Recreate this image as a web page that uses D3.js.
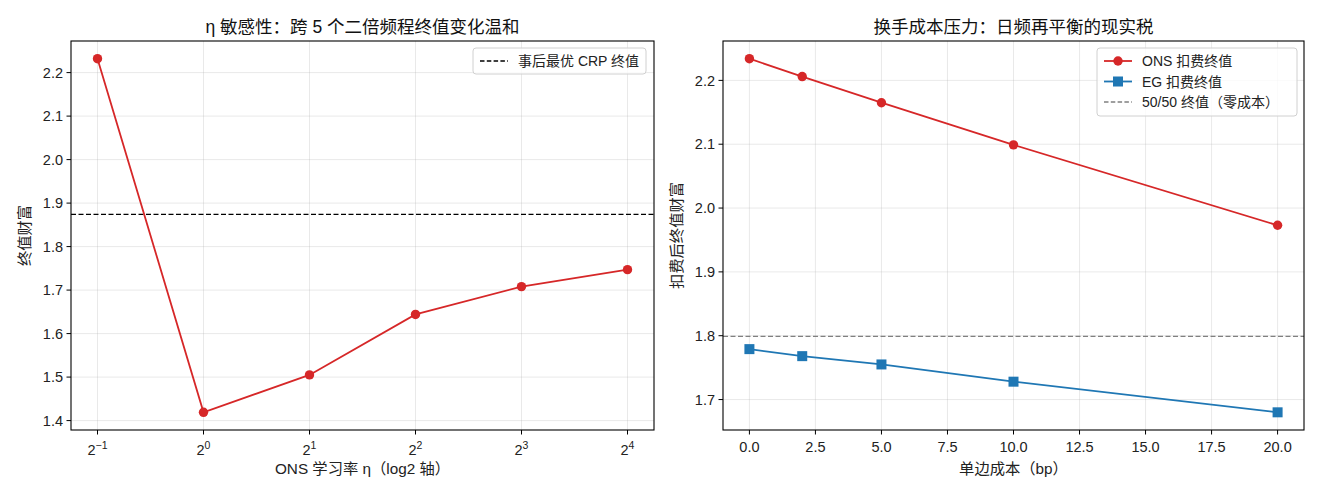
<!DOCTYPE html>
<html>
<head>
<meta charset="utf-8">
<script src="https://cdn.jsdelivr.net/npm/d3@7"></script>
<style>
  body { margin: 0; background: #fff; }
  svg { font-family: "Liberation Sans", "Noto Sans CJK SC", sans-serif; }
</style>
</head>
<body>
<div id="chart"></div>
<script>
// Datos del panel izquierdo: sensibilidad a eta
const etaExp = [-1, 0, 1, 2, 3, 4]
const etaWealth = [2.232, 1.419, 1.505, 1.644, 1.708, 1.747]
const bestCRP = 1.874

// Datos del panel derecho: costo de transacción
const costBp = [0, 2, 5, 10, 20]
const onsNet = [2.234, 2.206, 2.165, 2.099, 1.973]
const egNet = [1.779, 1.768, 1.755, 1.728, 1.680]
const fiftyBase = 1.799

const leftYTicks = [1.4, 1.5, 1.6, 1.7, 1.8, 1.9, 2.0, 2.1, 2.2]
const rightXTicks = [0, 2.5, 5, 7.5, 10, 12.5, 15, 17.5, 20]
const rightYTicks = [1.7, 1.8, 1.9, 2.0, 2.1, 2.2]

const RED = "#d62728"
const BLUE = "#1f77b4"
const TICK_FS = 14.5
const LEG_FS = 14
const LAB_FS = 15.3

const SVG = d3.select("#chart")
    .append("svg")
    .attr("width", 1320)
    .attr("height", 495);

// Margen de matplotlib: 5% del rango
function padded(lo, hi) {
    const m = (hi - lo) * 0.05
    return [lo - m, hi + m]
}

function drawGrid(g, x, y, xTicks, yTicks, box) {
    g.selectAll(".gx").data(xTicks).join("line")
        .attr("x1", d => x(d)).attr("x2", d => x(d))
        .attr("y1", box.top).attr("y2", box.bottom)
        .attr("stroke", "#b0b0b0").attr("stroke-opacity", 0.35).attr("stroke-width", 0.8)
    g.selectAll(".gy").data(yTicks).join("line")
        .attr("y1", d => y(d)).attr("y2", d => y(d))
        .attr("x1", box.left).attr("x2", box.right)
        .attr("stroke", "#b0b0b0").attr("stroke-opacity", 0.35).attr("stroke-width", 0.8)
}

function drawFrame(g, box) {
    g.append("rect")
        .attr("x", box.left).attr("y", box.top)
        .attr("width", box.right - box.left).attr("height", box.bottom - box.top)
        .attr("fill", "none").attr("stroke", "#000").attr("stroke-width", 1.1)
}

function yAxis(g, y, ticks, box) {
    const t = g.selectAll(".yt").data(ticks).join("g")
        .attr("transform", d => `translate(${box.left}, ${y(d)})`)
    t.append("line").attr("x1", -4.5).attr("x2", 0).attr("stroke", "#000").attr("stroke-width", 1)
    t.append("text").attr("x", -8).attr("dy", "0.36em")
        .attr("text-anchor", "end").attr("font-size", TICK_FS).attr("fill", "#222")
        .text(d => d.toFixed(1))
}

function titleAndLabels(g, box, title, xlab, ylab, ylabX) {
    const cx = (box.left + box.right) / 2
    g.append("text").attr("x", cx).attr("y", 33)
        .attr("text-anchor", "middle").attr("font-size", 17.5).attr("fill", "#111")
        .text(title)
    g.append("text").attr("x", cx).attr("y", 474)
        .attr("text-anchor", "middle").attr("font-size", LAB_FS).attr("fill", "#222")
        .text(xlab)
    g.append("text")
        .attr("transform", `translate(${ylabX}, ${(box.top + box.bottom) / 2}) rotate(-90)`)
        .attr("text-anchor", "middle").attr("font-size", LAB_FS).attr("fill", "#222")
        .text(ylab)
}

// ---------- Panel izquierdo ----------
function createLeft() {
    const box = { left: 71, right: 654, top: 41, bottom: 430 }
    const g = SVG.append("g")

    const x = d3.scaleLinear()
        .domain(padded(d3.min(etaExp), d3.max(etaExp)))
        .range([box.left, box.right])
    const y = d3.scaleLinear()
        .domain(padded(d3.min(etaWealth), d3.max(etaWealth)))
        .range([box.bottom, box.top])

    drawGrid(g, x, y, etaExp, leftYTicks, box)

    // Línea de referencia CRP
    g.append("line")
        .attr("x1", box.left).attr("x2", box.right)
        .attr("y1", y(bestCRP)).attr("y2", y(bestCRP))
        .attr("stroke", "#000").attr("stroke-width", 1.3).attr("stroke-dasharray", "5,2.5")

    const pts = etaExp.map((e, i) => [e, etaWealth[i]])
    g.append("path").datum(pts)
        .attr("d", d3.line().x(d => x(d[0])).y(d => y(d[1])))
        .attr("fill", "none").attr("stroke", RED).attr("stroke-width", 1.8)
    g.selectAll(".pt").data(pts).join("circle")
        .attr("cx", d => x(d[0])).attr("cy", d => y(d[1])).attr("r", 4.7)
        .attr("fill", RED)

    drawFrame(g, box)
    yAxis(g, y, leftYTicks, box)

    // Eje x con potencias de 2
    const t = g.selectAll(".xt").data(etaExp).join("g")
        .attr("transform", d => `translate(${x(d)}, ${box.bottom})`)
    t.append("line").attr("y1", 0).attr("y2", 4.5).attr("stroke", "#000")
    const txt = t.append("text").attr("y", 25).attr("text-anchor", "middle")
        .attr("font-size", TICK_FS).attr("fill", "#222")
    txt.append("tspan").text("2")
    txt.append("tspan").attr("dy", -6.5).attr("font-size", 10.5)
        .text(d => d < 0 ? "\u2212" + Math.abs(d) : d)

    titleAndLabels(g, box, "η 敏感性：跨 5 个二倍频程终值变化温和",
        "ONS 学习率 η（log2 轴）", "终值财富", 30)

    // Leyenda
    const lg = g.append("g").attr("transform", "translate(473, 48)")
    lg.append("rect").attr("width", 173).attr("height", 26).attr("rx", 3)
        .attr("fill", "#fff").attr("fill-opacity", 0.8).attr("stroke", "#d0d0d0")
    lg.append("line").attr("x1", 7).attr("x2", 35).attr("y1", 13).attr("y2", 13)
        .attr("stroke", "#000").attr("stroke-width", 1.3).attr("stroke-dasharray", "4.5,2.3")
    lg.append("text").attr("x", 45).attr("y", 13).attr("dy", "0.36em")
        .attr("font-size", LEG_FS).attr("fill", "#222").text("事后最优 CRP 终值")
}

// ---------- Panel derecho ----------
function createRight() {
    const box = { left: 723, right: 1304, top: 41, bottom: 430 }
    const g = SVG.append("g")

    const x = d3.scaleLinear()
        .domain(padded(d3.min(costBp), d3.max(costBp)))
        .range([box.left, box.right])
    const all = onsNet.concat(egNet)
    const y = d3.scaleLinear()
        .domain(padded(d3.min(all), d3.max(all)))
        .range([box.bottom, box.top])

    drawGrid(g, x, y, rightXTicks, rightYTicks, box)

    g.append("line")
        .attr("x1", box.left).attr("x2", box.right)
        .attr("y1", y(fiftyBase)).attr("y2", y(fiftyBase))
        .attr("stroke", "#808080").attr("stroke-width", 1.3).attr("stroke-dasharray", "5,2.5")

    const line = d3.line().x(d => x(d[0])).y(d => y(d[1]))
    const ons = costBp.map((c, i) => [c, onsNet[i]])
    const eg = costBp.map((c, i) => [c, egNet[i]])

    g.append("path").datum(ons).attr("d", line)
        .attr("fill", "none").attr("stroke", RED).attr("stroke-width", 1.8)
    g.selectAll(".ons").data(ons).join("circle")
        .attr("cx", d => x(d[0])).attr("cy", d => y(d[1])).attr("r", 4.7)
        .attr("fill", RED)

    g.append("path").datum(eg).attr("d", line)
        .attr("fill", "none").attr("stroke", BLUE).attr("stroke-width", 1.8)
    g.selectAll(".eg").data(eg).join("rect")
        .attr("x", d => x(d[0]) - 5).attr("y", d => y(d[1]) - 5)
        .attr("width", 10).attr("height", 10)
        .attr("fill", BLUE)

    drawFrame(g, box)
    yAxis(g, y, rightYTicks, box)

    const t = g.selectAll(".xt").data(rightXTicks).join("g")
        .attr("transform", d => `translate(${x(d)}, ${box.bottom})`)
    t.append("line").attr("y1", 0).attr("y2", 4.5).attr("stroke", "#000")
    t.append("text").attr("y", 22).attr("text-anchor", "middle")
        .attr("font-size", TICK_FS).attr("fill", "#222").text(d => d.toFixed(1))

    titleAndLabels(g, box, "换手成本压力：日频再平衡的现实税",
        "单边成本（bp）", "扣费后终值财富", 682)

    // Leyenda
    const lg = g.append("g").attr("transform", "translate(1097, 48)")
    lg.append("rect").attr("width", 200).attr("height", 68).attr("rx", 3)
        .attr("fill", "#fff").attr("fill-opacity", 0.8).attr("stroke", "#d0d0d0")
    const rows = [
        { label: "ONS 扣费终值", color: RED, mark: "circle", dash: null },
        { label: "EG 扣费终值", color: BLUE, mark: "square", dash: null },
        { label: "50/50 终值（零成本）", color: "#808080", mark: null, dash: "4.5,2.3" }
    ]
    const r = lg.selectAll(".row").data(rows).join("g")
        .attr("transform", (_, i) => `translate(0, ${13 + i * 20.5})`)
    r.append("line").attr("x1", 7).attr("x2", 35)
        .attr("stroke", d => d.color)
        .attr("stroke-width", d => d.dash ? 1.3 : 1.8)
        .attr("stroke-dasharray", d => d.dash)
    r.filter(d => d.mark == "circle").append("circle")
        .attr("cx", 21).attr("r", 4.7).attr("fill", d => d.color)
    r.filter(d => d.mark == "square").append("rect")
        .attr("x", 16).attr("y", -5).attr("width", 10).attr("height", 10).attr("fill", d => d.color)
    r.append("text").attr("x", 45).attr("dy", "0.36em")
        .attr("font-size", LEG_FS).attr("fill", "#222").text(d => d.label)
}

createLeft()
createRight()
</script>
</body>
</html>
